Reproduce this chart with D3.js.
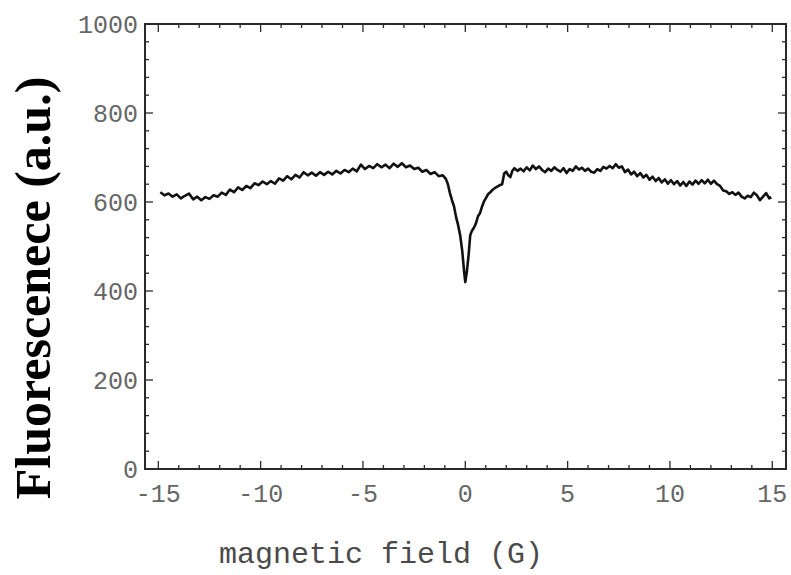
<!DOCTYPE html>
<html>
<head>
<meta charset="utf-8">
<script src="https://cdn.jsdelivr.net/npm/d3@7"></script>
<style>
  body { margin: 0; background: #fff; }
  svg { display: block; }
</style>
</head>
<body>
<svg id="chart" width="791" height="575"></svg>
<script>
// magnetic field (G)
const field = [
  -14.9, -14.7, -14.5, -14.3, -14.1, -13.9, -13.7, -13.5, -13.3, -13.1,
  -12.9, -12.7, -12.5, -12.3, -12.1, -11.9, -11.7, -11.5, -11.3, -11.1,
  -10.9, -10.7, -10.5, -10.3, -10.1, -9.9, -9.7, -9.5, -9.3, -9.1,
  -8.9, -8.7, -8.5, -8.3, -8.1, -7.9, -7.7, -7.5, -7.3, -7.1,
  -6.9, -6.7, -6.5, -6.3, -6.1, -5.9, -5.7, -5.5, -5.3, -5.1,
  -4.9, -4.7, -4.5, -4.3, -4.1, -3.9, -3.7, -3.5, -3.3, -3.1,
  -2.9, -2.7, -2.5, -2.3, -2.1, -1.9, -1.7, -1.5, -1.3, -1.1,
  -0.95, -0.85, -0.75, -0.65, -0.55, -0.45, -0.35, -0.25, -0.15, -0.05,
  0.0, 0.08, 0.16, 0.24, 0.32, 0.42, 0.52, 0.62, 0.72, 0.82,
  0.92, 1.02, 1.12, 1.22, 1.35, 1.5, 1.65, 1.8, 1.9, 2.0,
  2.1, 2.2, 2.3, 2.4, 2.55, 2.7, 2.85, 3.0, 3.15, 3.3,
  3.45, 3.6, 3.75, 3.9, 4.05, 4.2, 4.35, 4.5, 4.65, 4.8,
  4.95, 5.1, 5.25, 5.4, 5.55, 5.7, 5.85, 6.0, 6.15, 6.3,
  6.45, 6.6, 6.75, 6.9, 7.05, 7.2, 7.35, 7.5, 7.65, 7.8,
  7.95, 8.1, 8.25, 8.4, 8.55, 8.7, 8.85, 9.0, 9.15, 9.3,
  9.45, 9.6, 9.75, 9.9, 10.05, 10.2, 10.35, 10.5, 10.65, 10.8,
  10.95, 11.1, 11.25, 11.4, 11.55, 11.7, 11.85, 12.0, 12.15, 12.3,
  12.45, 12.6, 12.75, 12.9, 13.05, 13.2, 13.35, 13.5, 13.65, 13.8,
  13.95, 14.1, 14.25, 14.4, 14.55, 14.7, 14.85, 14.95
];

// fluorescence (a.u.)
const fluor = [
  622, 615, 619, 612, 617, 608, 614, 619, 606, 612,
  604, 611, 607, 615, 612, 621, 616, 628, 622, 633,
  627, 636, 631, 642, 638, 646, 640, 647, 641, 653,
  648, 658, 651, 661, 655, 667, 660, 666, 659, 667,
  661, 668, 662, 670, 664, 672, 667, 675, 669, 684,
  674, 681, 676, 685, 678, 684, 676, 686, 679, 687,
  678, 682, 674, 677, 668, 672, 663, 667, 658, 660,
  652, 640, 620, 604, 590, 566, 548, 525, 490, 440,
  420, 445, 480, 525, 535, 542, 552, 568, 575, 590,
  602, 610, 618, 622, 628, 633, 637, 640, 664, 668,
  660, 656, 670, 676, 670, 675, 669, 678, 671, 682,
  674, 680, 672, 667, 675, 670, 678, 672, 668, 676,
  665, 674, 670, 680, 673, 677, 670, 675, 668, 666,
  674, 670, 679, 675, 681, 676, 685, 677, 680, 667,
  673, 662, 668, 658, 665, 655, 661, 650, 657, 647,
  654, 644, 651, 641, 649, 640, 647, 637, 645, 636,
  646, 639, 648, 641, 649, 642, 650, 641, 648, 640,
  636, 626, 624, 618, 622, 616, 621, 612, 608, 614,
  611, 621, 615, 604, 612, 620, 608, 611
];

const xTicks = [-15, -10, -5, 0, 5, 10, 15];
const yTicks = [0, 200, 400, 600, 800, 1000];

const svg = d3.select('#chart');

const plotLeft = 145, plotRight = 786, plotTop = 24, plotBottom = 469;

// frame runs a bit past +-15 like the original plot range
const x = d3.scaleLinear().domain([-15.65, 15.67]).range([plotLeft, plotRight]);
const y = d3.scaleLinear().domain([0, 1000]).range([plotBottom, plotTop]);

const minorX = d3.range(-15, 16, 1).filter(d => !xTicks.includes(d));
const minorY = d3.range(0, 1001, 40).filter(d => !yTicks.includes(d));

const frameColor = '#2a2a2a';
const labelColor = '#666';

// ticks on all four sides, pointing in
function tickSide(g, positions, len, side) {
  positions.forEach(function (d) {
    let tick = g.append('line').attr('stroke', frameColor).attr('stroke-width', 1.3);
    if (side === 'bottom') tick.attr('x1', x(d)).attr('x2', x(d)).attr('y1', plotBottom).attr('y2', plotBottom - len);
    if (side === 'top') tick.attr('x1', x(d)).attr('x2', x(d)).attr('y1', plotTop).attr('y2', plotTop + len);
    if (side === 'left') tick.attr('y1', y(d)).attr('y2', y(d)).attr('x1', plotLeft).attr('x2', plotLeft + len);
    if (side === 'right') tick.attr('y1', y(d)).attr('y2', y(d)).attr('x1', plotRight).attr('x2', plotRight - len);
  });
}

const ticks = svg.append('g');
['bottom', 'top'].forEach(s => {
  tickSide(ticks, xTicks, 8, s);
  tickSide(ticks, minorX, 4, s);
});
['left', 'right'].forEach(s => {
  tickSide(ticks, yTicks.filter(d => d > 0 && d < 1000), 8, s);
  tickSide(ticks, minorY, 4, s);
});

// trace
const line = d3.line()
  .x((d, i) => x(field[i]))
  .y(d => y(d));

svg.append('path')
  .datum(fluor)
  .attr('fill', 'none')
  .attr('stroke', '#111')
  .attr('stroke-width', 2.6)
  .attr('stroke-linejoin', 'round')
  .attr('d', line);

// frame
svg.append('rect')
  .attr('x', plotLeft).attr('y', plotTop)
  .attr('width', plotRight - plotLeft).attr('height', plotBottom - plotTop)
  .attr('fill', 'none')
  .attr('stroke', frameColor)
  .attr('stroke-width', 2);

// tick labels
svg.append('g').selectAll('text')
  .data(xTicks)
  .join('text')
  .attr('x', d => x(d))
  .attr('y', 502)
  .attr('text-anchor', 'middle')
  .attr('font-family', '"Liberation Mono", "Courier New", monospace')
  .attr('font-size', 25)
  .attr('fill', labelColor)
  .text(d => d);

svg.append('g').selectAll('text')
  .data(yTicks)
  .join('text')
  .attr('x', plotLeft - 7)
  .attr('y', d => y(d))
  .attr('dy', '0.35em')
  .attr('text-anchor', 'end')
  .attr('font-family', '"Liberation Mono", "Courier New", monospace')
  .attr('font-size', 25)
  .attr('fill', labelColor)
  .text(d => d);

// axis titles
svg.append('text')
  .attr('x', 381)
  .attr('y', 563)
  .attr('text-anchor', 'middle')
  .attr('font-family', '"Liberation Mono", "Courier New", monospace')
  .attr('font-size', 30)
  .attr('fill', '#4a4a4a')
  .text('magnetic field (G)');

svg.append('text')
  .attr('transform', 'translate(50,288) rotate(-90)')
  .attr('text-anchor', 'middle')
  .attr('font-family', '"Liberation Serif", "Times New Roman", serif')
  .attr('font-weight', 'bold')
  .attr('font-size', 50)
  .attr('fill', '#000')
  .text('Fluorescenece (a.u.)');
</script>
</body>
</html>
